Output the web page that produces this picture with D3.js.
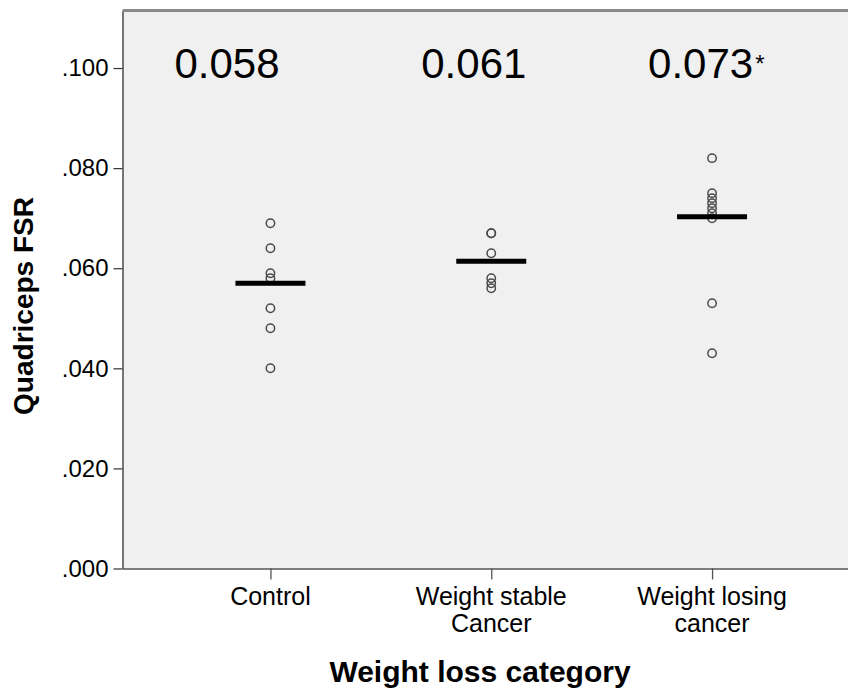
<!DOCTYPE html>
<html>
<head>
<meta charset="utf-8">
<script src="https://cdn.jsdelivr.net/npm/d3@7"></script>
<style>
  html, body { margin: 0; padding: 0; background: #ffffff; }
  svg { display: block; }
  text { font-family: "Liberation Sans", Arial, Helvetica, sans-serif; fill: #000; }
</style>
</head>
<body>
<svg id="chart" width="848" height="691"></svg>
<script>
// Groups on the x axis (line breaks split with "|")
const categories = ["Control", "Weight stable|Cancer", "Weight losing|cancer"];

// Individual quadriceps FSR values per group
const controlValues = [0.069, 0.064, 0.059, 0.058, 0.052, 0.048, 0.040];
const stableValues = [0.067, 0.067, 0.063, 0.058, 0.057, 0.056];
const losingValues = [0.082, 0.075, 0.074, 0.073, 0.072, 0.071, 0.070, 0.053, 0.043];

// Horizontal centre line drawn for each group
const centreValues = [0.057, 0.0614, 0.0703];

// Annotated group values shown above the points
const groupLabels = ["0.058", "0.061", "0.073"];
const groupMarks = ["", "", "*"];

// Y axis ticks
const yTicks = [0, 0.02, 0.04, 0.06, 0.08, 0.10];
const yTickLabels = [".000", ".020", ".040", ".060", ".080", ".100"];

const seriesValues = [controlValues, stableValues, losingValues];

const svg = d3.select("#chart");
const frame = { left: 122.5, right: 860, top: 11, bottom: 568.5 };

const y = d3.scaleLinear().domain([0, 0.1114]).range([568.5, 11]);
const x = d3.scalePoint().domain(categories).range([frame.left, frame.right]).padding(0.67);

// Plot background
svg.append("rect")
  .attr("x", frame.left).attr("y", frame.top)
  .attr("width", frame.right - frame.left).attr("height", frame.bottom - frame.top)
  .attr("fill", "#f0f0f0");

// Top border
svg.append("line")
  .attr("x1", frame.left).attr("x2", frame.right)
  .attr("y1", frame.top - 0.5).attr("y2", frame.top - 0.5)
  .attr("stroke", "#8a8a8a").attr("stroke-width", 3);

// Y axis
const yAxis = d3.axisLeft(y)
  .tickValues(yTicks)
  .tickFormat((d, i) => yTickLabels[i])
  .tickSizeInner(9).tickSizeOuter(0).tickPadding(5);
const gy = svg.append("g").attr("transform", `translate(${frame.left},0)`).call(yAxis);
gy.select(".domain").attr("stroke", "#555").attr("stroke-width", 1.6);
gy.selectAll(".tick line").attr("stroke", "#333").attr("stroke-width", 1.2);
gy.selectAll(".tick text").attr("font-size", 24).attr("fill", "#000")
  .style("font-family", "'Liberation Sans', Arial, sans-serif");

// X axis
const xAxis = d3.axisBottom(x).tickSizeInner(11).tickSizeOuter(0).tickFormat("");
const gx = svg.append("g").attr("transform", `translate(0,${frame.bottom})`).call(xAxis);
gx.select(".domain").attr("stroke", "#555").attr("stroke-width", 1.6);
gx.selectAll(".tick line").attr("stroke", "#555").attr("stroke-width", 1.3);

// Category labels (multi-line)
categories.forEach(c => {
  const t = svg.append("text")
    .attr("x", x(c)).attr("y", 605)
    .attr("text-anchor", "middle")
    .attr("font-size", 25);
  c.split("|").forEach((part, i) => {
    t.append("tspan").attr("x", x(c)).attr("dy", i === 0 ? 0 : 27).text(part);
  });
});

// Axis titles
svg.append("text")
  .attr("x", 480).attr("y", 682)
  .attr("text-anchor", "middle")
  .attr("font-size", 30).attr("font-weight", "bold")
  .text("Weight loss category");

svg.append("text")
  .attr("transform", "translate(33,306) rotate(-90)")
  .attr("text-anchor", "middle")
  .attr("font-size", 28).attr("font-weight", "bold")
  .text("Quadriceps FSR");

// Points
categories.forEach((c, i) => {
  svg.append("g").selectAll("circle")
    .data(seriesValues[i])
    .join("circle")
    .attr("cx", x(c)).attr("cy", d => y(d))
    .attr("r", 4.2)
    .attr("fill", "none")
    .attr("stroke", "#4a4a4a")
    .attr("stroke-width", 1.5);
});

// Centre lines
svg.append("g").selectAll("line")
  .data(centreValues)
  .join("line")
  .attr("x1", (d, i) => x(categories[i]) - 35)
  .attr("x2", (d, i) => x(categories[i]) + 35)
  .attr("y1", d => y(d)).attr("y2", d => y(d))
  .attr("stroke", "#000").attr("stroke-width", 5);

// Group value annotations, left-aligned a little before each group
const labelShift = [-96, -70, -64];
groupLabels.forEach((lab, i) => {
  const t = svg.append("text")
    .attr("x", x(categories[i]) + labelShift[i]).attr("y", 78)
    .attr("text-anchor", "start")
    .attr("font-size", 42);
  t.append("tspan").text(lab);
  if (groupMarks[i]) {
    t.append("tspan").attr("font-size", 24).attr("dx", 2).attr("dy", -6).text(groupMarks[i]);
  }
});
</script>
</body>
</html>
